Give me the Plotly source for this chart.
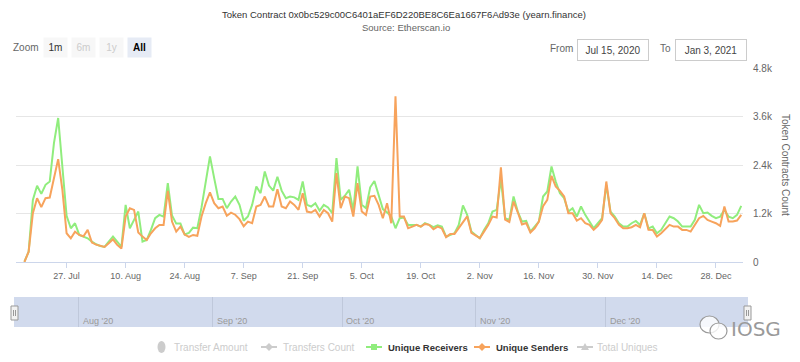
import plotly.graph_objects as go
import pandas as pd

# ---------------- data ----------------
start_date = "2020-07-17"
end_date = "2021-01-03"

unique_receivers = [
    10, 255, 1538, 1885, 1686, 1909, 1992, 2943, 3563, 2364,
    1141, 835, 959, 670, 628, 587, 504, 438, 397, 372,
    504, 628, 504, 372, 1414, 835, 1042, 1248, 504, 546,
    794, 1083, 1166, 1124, 1951, 1150, 950, 950, 680, 720,
    850, 835, 1350, 1990, 2612, 2075, 1560, 1560, 1331, 1496,
    1620, 1414, 1020, 1124, 1414, 1868, 1703, 2240, 1890, 1765,
    2108, 1765, 1580, 1620, 1600, 1538, 1992, 1414, 1373, 1455,
    1270, 1414, 1350, 1207, 2571, 1538, 1640, 1786, 1270, 2364,
    1414, 1331, 1848, 2005, 1640, 1310, 1228, 1125, 835, 1083,
    1100, 918, 918, 918, 876, 959, 918, 860, 905, 876,
    628, 670, 711, 918, 1400, 1166, 752, 670, 587, 794,
    959, 1248, 1290, 2050, 1083, 1042, 1620, 1248, 1000, 1017,
    752, 876, 1000, 1620, 1745, 2364, 1992, 1700, 1579, 1248,
    1331, 1124, 1373, 1166, 1000, 835, 959, 1083, 1900, 1248,
    1124, 959, 876, 876, 959, 1017, 918, 1207, 830, 876,
    711, 794, 959, 1124, 1083, 1000, 876, 876, 876, 1042,
    1414, 1207, 1224, 1141, 1083, 1124, 1290, 1124, 1083, 1166,
    1389,
]

unique_senders = [
    0, 255, 1207, 1579, 1356, 1579, 1596, 2116, 2546, 1786,
    711, 587, 752, 670, 636, 794, 480, 430, 397, 372,
    463, 562, 422, 331, 1124, 1331, 1290, 730, 628, 546,
    711, 835, 918, 918, 1760, 1000, 752, 876, 680, 620,
    670, 650, 1124, 1455, 1720, 1455, 1331, 1373, 1145, 1220,
    1170, 1060, 885, 1000, 959, 1373, 1414, 1620, 1373, 1373,
    1802, 1373, 1331, 1496, 1414, 1290, 1703, 1248, 1224, 1290,
    1124, 1290, 1207, 1000, 2199, 1331, 1620, 1579, 1124, 1951,
    1248, 1166, 1620, 1637, 1414, 1083, 1455, 959, 4100, 1124,
    1124, 835, 876, 918, 876, 942, 918, 810, 876, 830,
    615, 695, 695, 850, 990, 1130, 720, 660, 590, 752,
    918, 1124, 1100, 2340, 1050, 990, 1496, 1230, 930, 965,
    730, 835, 1000, 1380, 1538, 2133, 1868, 1760, 1620, 1207,
    1207, 1025, 1083, 959, 918, 794, 893, 1042, 1992, 1207,
    1083, 918, 835, 835, 860, 918, 860, 1207, 800, 794,
    628, 711, 810, 918, 876, 876, 794, 794, 752, 918,
    1083, 1141, 1042, 1000, 959, 893, 1373, 1000, 1000, 1025,
    1166,
]

x_tick_dates = ["2020-07-27", "2020-08-10", "2020-08-24", "2020-09-07", "2020-09-21",
                "2020-10-05", "2020-10-19", "2020-11-02", "2020-11-16", "2020-11-30",
                "2020-12-14", "2020-12-28"]
x_tick_labels = ["27. Jul", "10. Aug", "24. Aug", "7. Sep", "21. Sep", "5. Oct",
                 "19. Oct", "2. Nov", "16. Nov", "30. Nov", "14. Dec", "28. Dec"]
y_tick_vals = [0, 1200, 2400, 3600, 4800]
y_tick_labels = ["0", "1.2k", "2.4k", "3.6k", "4.8k"]
nav_month_dates = ["2020-08-01", "2020-09-01", "2020-10-01", "2020-11-01", "2020-12-01"]
nav_month_labels = ["Aug '20", "Sep '20", "Oct '20", "Nov '20", "Dec '20"]

legend_names = ["Transfer Amount", "Transfers Count", "Unique Receivers",
                "Unique Senders", "Total Uniques"]

dates = pd.date_range(start_date, end_date, freq="D")

# ---------------- layout helpers ----------------
# the page body adds an 8px offset, so the figure is 8px smaller and all
# screen positions below are given in window pixels
OFF = 8
W, H = 800 - OFF, 362 - OFF
ML, MR, MT, MB = 14 - OFF, 52, 68 - OFF, 35
PW = W - ML - MR
PH = H - MT - MB


def PX(x):
    return (x - OFF - ML) / PW


def PY(y):
    return (H - MB - (y - OFF)) / PH


FONT = "Liberation Sans, Arial, sans-serif"
GREEN = "#90ed7d"
ORANGE = "#f7a35c"

fig = go.Figure()
fig.add_trace(go.Scatter(x=dates, y=unique_receivers, mode="lines", name=legend_names[2],
                         line=dict(color=GREEN, width=2), showlegend=False,
                         xaxis="x", yaxis="y"))
fig.add_trace(go.Scatter(x=dates, y=unique_senders, mode="lines", name=legend_names[3],
                         line=dict(color=ORANGE, width=2), showlegend=False,
                         xaxis="x", yaxis="y"))

annotations = []
shapes = []


def text(t, x, y, size=10, color="#666666", xanchor="center", bold=False, **kw):
    annotations.append(dict(text=("<b>%s</b>" % t) if bold else t, x=PX(x), y=PY(y),
                            xref="paper", yref="paper", xanchor=xanchor, yanchor="middle",
                            showarrow=False, font=dict(size=size, color=color, family=FONT), **kw))


# titles (the title sits right at the top edge of the figure)
annotations.append(dict(text="Token Contract 0x0bc529c00C6401aEF6D220BE8C6Ea1667F6Ad93e (yearn.finance)",
                        x=PX(404), y=PY(OFF), xref="paper", yref="paper", xanchor="center",
                        yanchor="top", borderpad=0, showarrow=False,
                        font=dict(size=9.5, color="#333333", family=FONT)))
text("Source: Etherscan.io", 406, 27, size=9.5, color="#666666")

# range selector
text("Zoom", 26, 48, size=10)
buttons = [("1m", 55, "#333333", "#f7f7f7", False), ("6m", 83, "#cccccc", "#f7f7f7", False),
           ("1y", 111, "#cccccc", "#f7f7f7", False), ("All", 139, "#000000", "#e6ebf5", True)]
for label, cx, col, bg, bold in buttons:
    text(label, cx, 48, size=10, color=col, bold=bold, width=23, height=19, bgcolor=bg,
         borderpad=0, align="center", valign="middle")

# from / to inputs
text("From", 561, 49, size=10)
text("Jul 15, 2020", 613, 49.5, size=10, color="#444444", width=70, height=20, borderpad=0,
     bordercolor="#cccccc", borderwidth=1, bgcolor="#ffffff")
text("To", 665, 49, size=10)
text("Jan 3, 2021", 711, 49.5, size=10, color="#444444", width=70, height=20, borderpad=0,
     bordercolor="#cccccc", borderwidth=1, bgcolor="#ffffff")

# y axis title
text("Token Contracts Count", 786, 165, size=10, textangle=90)

# navigator
shapes.append(dict(type="rect", xref="x2 domain", yref="y2 domain", x0=0, x1=1, y0=0, y1=1,
                   fillcolor="rgba(102,133,194,0.3)", line=dict(width=0), layer="above"))
for d, lab in zip(nav_month_dates, nav_month_labels):
    annotations.append(dict(text=lab, x=d, y=0, xref="x2", yref="y2 domain", xanchor="left",
                            yanchor="bottom", xshift=2, yshift=-1, showarrow=False,
                            font=dict(size=9, color="#999999", family=FONT)))
for hx in (14.5, 747.5):
    shapes.append(dict(type="rect", xref="paper", yref="paper", x0=PX(hx - 3.5), x1=PX(hx + 3.5),
                       y0=PY(320), y1=PY(306), fillcolor="#f2f2f2",
                       line=dict(color="#999999", width=1), layer="above"))
    for gx in (hx - 1, hx + 1):
        shapes.append(dict(type="line", xref="paper", yref="paper", x0=PX(gx), x1=PX(gx),
                           y0=PY(316), y1=PY(310), line=dict(color="#999999", width=1), layer="above"))

# legend
LY = 347
legend_items = [
    (legend_names[0], 172, "#cccccc", False, "pill", 161.5),
    (legend_names[1], 281, "#cccccc", False, "diamond", 269),
    (legend_names[2], 386, GREEN, True, "square", 374),
    (legend_names[3], 494, ORANGE, True, "diamond", 482),
    (legend_names[4], 595, "#cccccc", False, "triangle", 585),
]
for name, tx, col, active, sym, sx in legend_items:
    text(name, tx, LY, size=9.5 if active else 10, color="#333333" if active else "#cccccc",
         xanchor="left", bold=active)
    if sym == "pill":
        shapes.append(dict(type="circle", xref="paper", yref="paper", x0=PX(sx - 4), x1=PX(sx + 4),
                           y0=PY(LY + 6), y1=PY(LY - 6), fillcolor=col, line=dict(width=0)))
        continue
    shapes.append(dict(type="line", xref="paper", yref="paper", x0=PX(sx - 8), x1=PX(sx + 8),
                       y0=PY(LY), y1=PY(LY), line=dict(color=col, width=2)))
    if sym == "diamond":
        pts = [(sx, LY - 4), (sx + 4, LY), (sx, LY + 4), (sx - 4, LY)]
    elif sym == "square":
        pts = [(sx - 3, LY - 3), (sx + 3, LY - 3), (sx + 3, LY + 3), (sx - 3, LY + 3)]
    else:
        pts = [(sx, LY - 4), (sx + 4, LY + 3), (sx - 4, LY + 3)]
    path = "M " + " L ".join("%f,%f" % (PX(a), PY(b)) for a, b in pts) + " Z"
    shapes.append(dict(type="path", xref="paper", yref="paper", path=path, fillcolor=col,
                       line=dict(width=0)))

# watermark
shapes.append(dict(type="circle", xref="paper", yref="paper", x0=PX(700), x1=PX(719),
                   y0=PY(333), y1=PY(316), fillcolor="rgba(255,255,255,0.8)",
                   line=dict(color="#9a9a9a", width=1.2), layer="above"))
shapes.append(dict(type="circle", xref="paper", yref="paper", x0=PX(710), x1=PX(727),
                   y0=PY(339), y1=PY(323), fillcolor="rgba(255,255,255,0.8)",
                   line=dict(color="#9a9a9a", width=1.2), layer="above"))
annotations.append(dict(text="IOSG", x=PX(729), y=PY(329), xref="paper", yref="paper", xanchor="left",
                        yanchor="middle", showarrow=False,
                        font=dict(size=20, color="#9a9a9a", family="DejaVu Sans")))

fig.update_layout(
    width=W, height=H,
    margin=dict(l=ML, r=MR, t=MT, b=MB, autoexpand=False),
    paper_bgcolor="#ffffff", plot_bgcolor="#ffffff",
    showlegend=False,
    font=dict(family=FONT, size=10, color="#666666"),
    xaxis=dict(domain=[PX(16), PX(743)], range=["2020-07-15", "2021-01-03 10:00"], anchor="y",
               type="date", automargin=False,
               tickvals=x_tick_dates, ticktext=x_tick_labels, showgrid=False, zeroline=False,
               showline=True, linecolor="#ccd6eb", linewidth=1, ticks="outside", ticklen=5,
               tickcolor="#ccd6eb", tickfont=dict(size=9, color="#666666", family=FONT)),
    yaxis=dict(domain=[PY(262), 1], range=[0, 4800], side="right", anchor="x", automargin=False,
               tickvals=y_tick_vals, ticktext=y_tick_labels, showgrid=True, gridcolor="#e6e6e6",
               gridwidth=1, zeroline=False, showline=False, ticks="outside", ticklen=7,
               tickcolor="rgba(0,0,0,0)", tickfont=dict(size=10, color="#666666", family=FONT)),
    xaxis2=dict(domain=[0, 1], range=[start_date, end_date], anchor="y2", type="date",
                automargin=False, tickvals=nav_month_dates, showticklabels=False, showgrid=True,
                gridcolor="#e6e6e6", zeroline=False, showline=False, ticks=""),
    yaxis2=dict(domain=[0, PY(297)], range=[0, 1], anchor="x2", visible=False, showgrid=False,
                automargin=False),
    annotations=annotations,
    shapes=shapes,
)

fig.write_html("out.html")
